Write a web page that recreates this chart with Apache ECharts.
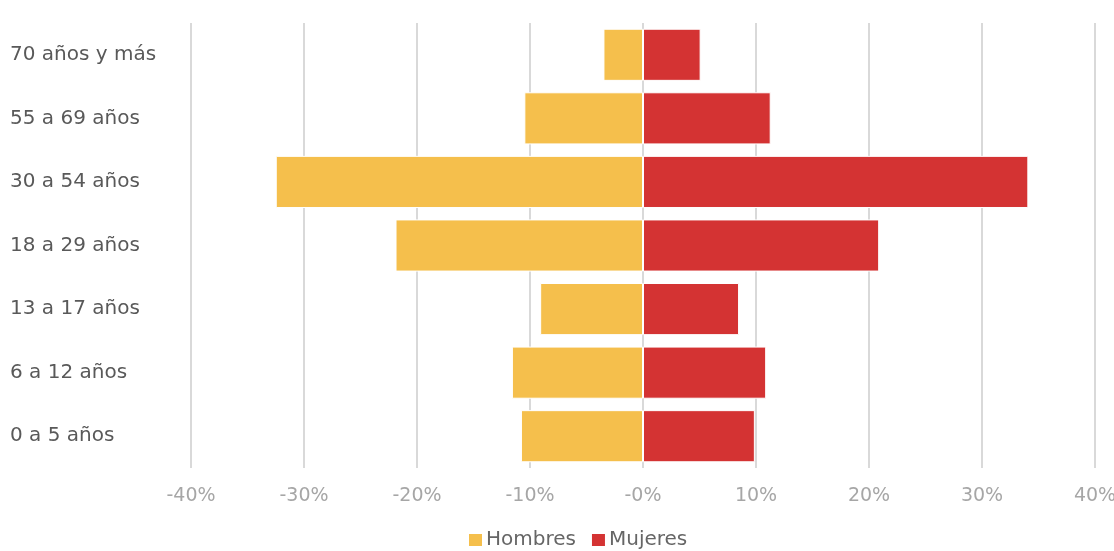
<!DOCTYPE html>
<html>
<head>
<meta charset="utf-8">
<script src="https://cdn.jsdelivr.net/npm/echarts@6/dist/echarts.min.js"></script>
<style>
  html, body { margin: 0; padding: 0; background: #fff; }
  #chart { width: 1114px; height: 551px; }
</style>
</head>
<body>
<div id="chart"></div>
<script>
// Age groups, top to bottom
const categories = ['70 años y más', '55 a 69 años', '30 a 54 años', '18 a 29 años', '13 a 17 años', '6 a 12 años', '0 a 5 años'];
// Share of each group (%); men drawn to the left as negatives
const hombres = [-3.5, -10.5, -32.5, -21.9, -9.1, -11.6, -10.8];
const mujeres = [5.1, 11.3, 34.1, 20.9, 8.5, 10.9, 9.9];
const xTicks = [-40, -30, -20, -10, 0, 10, 20, 30, 40];

const chart = echarts.init(document.getElementById('chart'));
chart.setOption({
  animation: false,
  textStyle: { fontFamily: '"DejaVu Sans", sans-serif' },
  grid: { left: 191, right: 19, top: 23, bottom: 83, outerBoundsMode: 'none' },
  legend: {
    data: ['Hombres', 'Mujeres'],
    top: 530,
    left: 467,
    padding: 0,
    itemWidth: 15,
    itemHeight: 14,
    itemGap: 14,
    icon: 'rect',
    textStyle: { fontSize: 20, color: '#666', padding: [0, 0, 0, -2] }
  },
  xAxis: {
    type: 'value',
    min: xTicks[0],
    max: xTicks[xTicks.length - 1],
    interval: 10,
    axisLine: { show: false },
    axisTick: { show: false },
    splitLine: { lineStyle: { color: '#d9d9d9', width: 2 } },
    axisLabel: {
      margin: 19,
      fontSize: 19,
      color: '#a6a6a6',
      formatter: v => (v <= 0 ? '-' + Math.abs(v) : v) + '%'
    }
  },
  yAxis: {
    type: 'category',
    data: categories,
    inverse: true,
    axisLine: { show: false },
    axisTick: { show: false },
    axisLabel: {
      align: 'left',
      margin: 181,
      fontSize: 20,
      color: '#595959'
    }
  },
  series: [
    {
      name: 'Hombres',
      type: 'bar',
      stack: 'total',
      barCategoryGap: '18%',
      data: hombres,
      itemStyle: { color: '#F5BF4C', borderColor: '#fff', borderWidth: 1 }
    },
    {
      name: 'Mujeres',
      type: 'bar',
      stack: 'total',
      barCategoryGap: '18%',
      data: mujeres,
      itemStyle: { color: '#D43333', borderColor: '#fff', borderWidth: 1 }
    }
  ]
});
</script>
</body>
</html>
